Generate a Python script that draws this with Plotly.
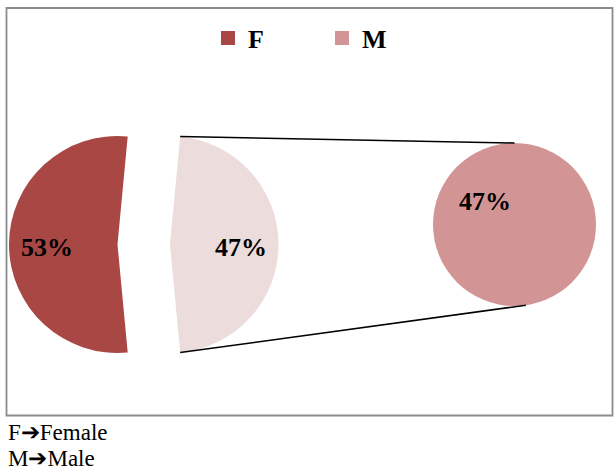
import math
import plotly.graph_objects as go

# ---- data -------------------------------------------------------------
categories = ["F", "M"]
shares = [53, 47]                       # percent of respondents
footnotes = ["F\u2794Female", "M\u2794Male"]

# ---- styling / geometry (pixels) --------------------------------------
W, H = 614, 473
F_COL = "#A94745"
M_LIGHT = "#ECDCDC"
M_COL = "#D29494"
CLEAR = "rgba(0,0,0,0)"
SERIF = "Liberation Serif, Times New Roman, serif"

main_cx, main_cy, main_r = 117.5, 244.5, 108.5   # first pie
explode = 52.5                                    # offset of the split-off slice
sub_cx, sub_cy, sub_r = 514.5, 224.5, 81.5       # second pie


def px(x):
    return x / W


def py(y):
    return 1 - y / H


def dom(cx, cy, r):
    return dict(x=[px(cx - r), px(cx + r)], y=[py(cy + r), py(cy - r)])


total = sum(shares)
f_frac = shares[0] / total
edge = (f_frac - 0.5) * 180            # M slice edges, degrees from 12 o'clock
rotation = 180 - edge                  # F centred on 9 o'clock, clockwise

fig = go.Figure()

# F slice of the first pie
fig.add_trace(go.Pie(
    labels=categories, values=shares, sort=False, direction="clockwise",
    rotation=rotation, marker=dict(colors=[F_COL, CLEAR]),
    domain=dom(main_cx, main_cy, main_r), textinfo="none",
    hoverinfo="skip", showlegend=False))

# M slice of the first pie, pulled to the right
fig.add_trace(go.Pie(
    labels=categories, values=shares, sort=False, direction="clockwise",
    rotation=rotation, marker=dict(colors=[CLEAR, M_LIGHT]),
    domain=dom(main_cx + explode, main_cy, main_r), textinfo="none",
    hoverinfo="skip", showlegend=False))

# second pie: breakdown of the M slice
fig.add_trace(go.Pie(
    labels=[categories[1]], values=[shares[1]], sort=False,
    marker=dict(colors=[M_COL]), domain=dom(sub_cx, sub_cy, sub_r),
    textinfo="none", hoverinfo="skip", showlegend=False))

# legend entries
for name, col in zip(categories, [F_COL, M_COL]):
    fig.add_trace(go.Scatter(
        x=[None], y=[None], mode="markers", name=name,
        marker=dict(symbol="square", size=14, color=col)))

# percentage labels
pct = [f"{round(v / total * 100)}%" for v in shares]
lab_font = dict(family=SERIF, size=26, color="black", weight="bold")
annotations = []
rr = 0.65 * main_r
annotations.append(dict(x=px(main_cx - rr), y=py(main_cy + 3), text=pct[0]))
annotations.append(dict(x=px(main_cx + explode + rr), y=py(main_cy + 3), text=pct[1]))
ang = math.radians(308.5)
rs = 0.46 * sub_r
annotations.append(dict(x=px(sub_cx + rs * math.sin(ang)),
                        y=py(sub_cy - rs * math.cos(ang)), text=pct[1]))
for a in annotations:
    a.update(xref="paper", yref="paper", showarrow=False, font=lab_font,
             xanchor="center", yanchor="middle")

# footnotes below the frame
for i, t in enumerate(footnotes):
    annotations.append(dict(
        x=px(6), y=py(H - 26 * (len(footnotes) - 1 - i)), xref="paper",
        yref="paper", text=t, showarrow=False, xanchor="left",
        yanchor="bottom", font=dict(family=SERIF, size=23, color="black")))

# connector lines from the pulled slice to the second pie
a = math.radians(edge)
sx = main_cx + explode + main_r * math.sin(a)
top_y = main_cy - main_r * math.cos(a)
bot_y = main_cy + main_r * math.cos(a)
b = math.radians(8)
shapes = [
    dict(type="line", xref="paper", yref="paper",
         x0=px(sx), y0=py(top_y), x1=px(sub_cx), y1=py(sub_cy - sub_r),
         line=dict(color="black", width=1.5)),
    dict(type="line", xref="paper", yref="paper",
         x0=px(sx), y0=py(bot_y), x1=px(sub_cx + sub_r * math.sin(b)),
         y1=py(sub_cy + sub_r * math.cos(b)),
         line=dict(color="black", width=1.5)),
    dict(type="rect", xref="paper", yref="paper",
         x0=px(6.5), y0=py(415.5), x1=px(612.5), y1=py(8),
         line=dict(color="#8C8C8C", width=1.8)),
]

fig.update_layout(
    width=W, height=H, margin=dict(l=0, r=0, t=0, b=0),
    paper_bgcolor="white", plot_bgcolor="white",
    xaxis=dict(visible=False), yaxis=dict(visible=False),
    showlegend=True,
    legend=dict(orientation="h", x=px(208), y=py(38), xanchor="left",
                yanchor="middle", entrywidth=69, entrywidthmode="pixels",
                font=dict(family=SERIF, size=26, color="black", weight="bold"),
                bgcolor=CLEAR),
    annotations=annotations, shapes=shapes,
)

fig.write_html("out.html")
